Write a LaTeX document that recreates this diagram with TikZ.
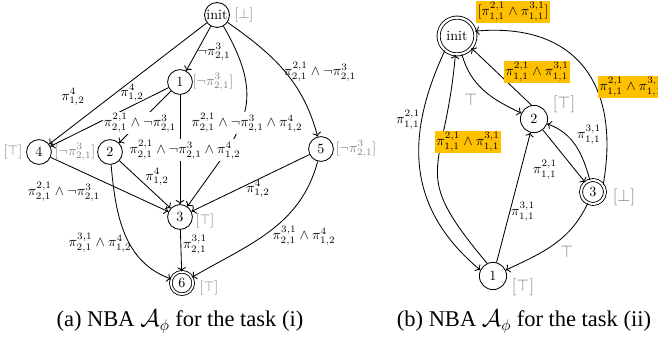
\documentclass[tikz,border=0pt]{standalone}
\usepackage{amsmath}
\usepackage{fontspec}
\newfontfamily\capfont{Liberation Serif}
\usetikzlibrary{positioning,arrows.meta}
\definecolor{hlorange}{RGB}{255,192,0}

\begin{document}
\begin{tikzpicture}[
  x=0.025cm, y=-0.025cm,
  st/.style={circle, draw, line width=0.6pt, minimum size=0.62cm, inner sep=0.5pt},
  acc/.style={st, double, double distance=1.3pt},
  tag/.style={gray},
  bigtag/.style={gray, font=\large},
  lbl/.style={inner sep=1pt},
  onl/.style={lbl, fill=white},
  hl/.style={fill=hlorange, inner sep=1pt},
  arr/.style={->, line width=0.6pt},
  captxt/.style={font=\capfont\fontsize{16}{19}\selectfont}
]
  \useasboundingbox (0,0) rectangle (658,341);

  % (a) task (i)
  \node[st] (a0) at (217,15) {init};
  \node[st] (a1) at (180,82) {1};
  \node[st] (a2) at (110,152) {2};
  \node[st] (a3) at (180,217) {3};
  \node[st] (a4) at (39,152) {4};
  \node[st] (a5) at (321,149) {5};
  \node[acc, minimum size=0.56cm] (a6) at (182,283) {6};

  \node[tag] (a0t) at (244,15) {$[\bot]$};
  \node[tag] (a1t) at (213,82) {$[\neg\pi^{3}_{2,1}]$};
  \node[tag] (a2t) at (75,152) {$[\neg\pi^{3}_{2,1}]$};
  \node[tag] (a3t) at (205,221) {$[\top]$};
  \node[tag] (a4t) at (13,152) {$[\top]$};
  \node[tag] (a5t) at (356,149) {$[\neg\pi^{3}_{2,1}]$};
  \node[tag] (a6t) at (209,288) {$[\top]$};

  \draw[arr] (a0) -- (a1);
  \draw[arr] (a0) -- (a4);
  \draw[arr] (a1) -- (a4);
  \draw[arr] (a1) -- (a2);
  \draw[arr] (a1) -- (a3);
  \draw[arr] (a0) to[out=-60, in=55, looseness=1.3] (a3);
  \draw[arr] (a0) to[out=-35, in=105] (a5);
  \draw[arr] (a4) -- (a3);
  \draw[arr] (a2) -- (a3);
  \draw[arr] (a5) -- (a3);
  \draw[arr] (a3) -- (a6);
  \draw[arr] (a2) to[out=-85, in=160] (a6);
  \draw[arr] (a5) to[out=-105, in=30] (a6);

  \node[lbl] (la01) at (214,52) {$\neg\pi^{3}_{2,1}$};
  \node[lbl] (la04) at (73,97) {$\pi^{4}_{1,2}$};
  \node[lbl] (la14) at (132,93) {$\pi^{4}_{1,2}$};
  \node[onl] (la12) at (140,123) {$\pi^{2,1}_{2,1}\wedge\neg\pi^{3}_{2,1}$};
  \node[onl] (la13) at (185,150) {$\pi^{2,1}_{2,1}\wedge\neg\pi^{3}_{2,1}\wedge\pi^{4}_{1,2}$};
  \node[onl] (la03) at (247,123) {$\pi^{2,1}_{2,1}\wedge\neg\pi^{3}_{2,1}\wedge\pi^{4}_{1,2}$};
  \node[lbl] (la05) at (320,72) {$\pi^{2,1}_{2,1}\wedge\neg\pi^{3}_{2,1}$};
  \node[lbl] (la43) at (64,192) {$\pi^{2,1}_{2,1}\wedge\neg\pi^{3}_{2,1}$};
  \node[lbl] (la23) at (157,177) {$\pi^{4}_{1,2}$};
  \node[lbl] (la53) at (258,189) {$\pi^{4}_{1,2}$};
  \node[lbl] (la26) at (100,243) {$\pi^{3,1}_{2,1}\wedge\pi^{4}_{1,2}$};
  \node[lbl] (la36) at (195,245) {$\pi^{3,1}_{2,1}$};
  \node[lbl] (la56) at (304,236) {$\pi^{3,1}_{2,1}\wedge\pi^{4}_{1,2}$};

  % (b) task (ii)
  \node[acc, minimum size=0.92cm, double distance=1.6pt] (b0) at (457,36) {init};
  \node[st, minimum size=0.68cm] (b2) at (534,119) {2};
  \node[acc, minimum size=0.6cm, double distance=1.5pt] (b3) at (593,192) {3};
  \node[st, minimum size=0.68cm] (b1) at (493,276) {1};

  \node[hl] (b0t) at (513,12) {$[\pi^{2,1}_{1,1}\wedge\pi^{3,1}_{1,1}]$};
  \node[bigtag] (b2t) at (564,104) {$[\top]$};
  \node[bigtag] (b3t) at (624,197) {$[\bot]$};
  \node[bigtag] (b1t) at (523,287) {$[\top]$};

  \draw[arr] (b0) to[out=-75, in=155] (b2);
  \draw[arr] (b2.100) -- (b0.-40);
  \draw[arr] (b3.35) to[out=80, in=5, looseness=1.3] (b0.15);
  \draw[arr] (b2) -- (b3);
  \draw[arr] (b3) to[out=105, in=-20] (b2);
  \draw[arr] (b1) -- (b2);
  \draw[arr] (b3) to[out=-115, in=25] (b1);
  \draw[arr] (b0.-130) to[out=-115, in=140, looseness=1.1] (b1.155);
  \draw[arr] (b1.115) to[out=130, in=-95, looseness=1.5] (b0.-95);

  \node[bigtag] (lb02) at (471,100) {$\top$};
  \node[hl] (lb20) at (537,72) {$\pi^{2,1}_{1,1}\wedge\pi^{3,1}_{1,1}$};
  \node[hl] (lb30) at (631,87) {$\pi^{2,1}_{1,1}\wedge\pi^{3,1}_{1,1}$};
  \node[lbl] (lb23) at (545,170) {$\pi^{2,1}_{1,1}$};
  \node[lbl] (lb32) at (589,135) {$\pi^{3,1}_{1,1}$};
  \node[lbl] (lb12) at (523,212) {$\pi^{3,1}_{1,1}$};
  \node[bigtag] (lb31) at (567,252) {$\top$};
  \node[lbl] (lb01) at (408,120) {$\pi^{2,1}_{1,1}$};
  \node[hl] (lb10) at (468,142) {$\pi^{2,1}_{1,1}\wedge\pi^{3,1}_{1,1}$};

  % captions
  \node[captxt] (capa) at (180,322) {(a) NBA $\mathcal{A}_\phi$ for the task (i)};
  \node[captxt] (capb) at (524,322) {(b) NBA $\mathcal{A}_\phi$ for the task (ii)};
\end{tikzpicture}
\end{document}
